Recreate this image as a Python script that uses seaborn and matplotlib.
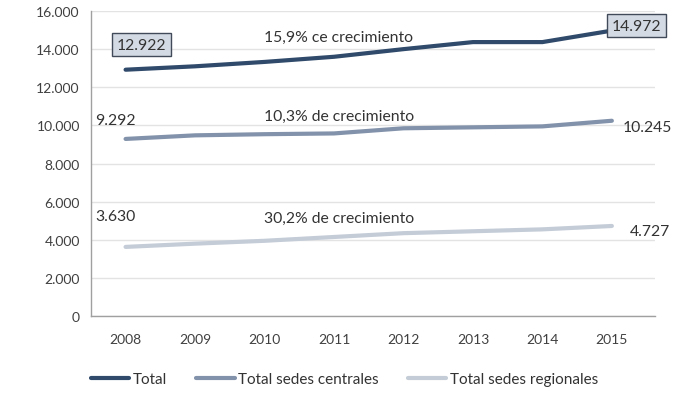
import pandas as pd
import matplotlib.pyplot as plt
import seaborn as sns

years = [2008, 2009, 2010, 2011, 2012, 2013, 2014, 2015]
total = [12922, 13100, 13330, 13600, 14000, 14370, 14370, 14972]
centrales = [9292, 9480, 9540, 9580, 9850, 9900, 9950, 10245]
regionales = [3630, 3800, 3950, 4150, 4350, 4450, 4550, 4727]
series_names = ["Total", "Total sedes centrales", "Total sedes regionales"]
colors = ["#2f4a6a", "#8292aa", "#c4ccd7"]
yticks = [0, 2000, 4000, 6000, 8000, 10000, 12000, 14000, 16000]

df = pd.DataFrame({
    "year": years * 3,
    "value": total + centrales + regionales,
    "serie": [series_names[0]] * 8 + [series_names[1]] * 8 + [series_names[2]] * 8,
})

sns.set_style("white")
plt.rcParams["font.family"] = ["Lato", "DejaVu Sans"]

fig = plt.figure(figsize=(6.78, 4.14), dpi=100)
ax = fig.add_axes([0.134, 0.234, 0.832, 0.737])

sns.lineplot(data=df, x="year", y="value", hue="serie", palette=colors,
             linewidth=3, ax=ax)

ax.set_xlim(2007.5, 2015.62)
ax.set_ylim(0, 16000)
ax.set_xticks(years)
ax.set_yticks(yticks)
ax.set_yticklabels([f"{v:,}".replace(",", ".") for v in yticks])
ax.tick_params(axis="both", labelsize=10, colors="#404040", length=0)
ax.tick_params(axis="x", pad=12)
ax.tick_params(axis="y", pad=8)
ax.set_xlabel("")
ax.set_ylabel("")
ax.grid(axis="y", color="#e3e3e3", linewidth=1)
ax.set_axisbelow(True)
for side in ["top", "right"]:
    ax.spines[side].set_visible(False)
for side in ["left", "bottom"]:
    ax.spines[side].set_color("#a0a0a0")
    ax.spines[side].set_linewidth(1)

def fmt(v):
    return f"{v:,}".replace(",", ".")

fs = 11.3
box = dict(boxstyle="square,pad=0.3", fc="#d4dae3", ec="#404a58", lw=1)
ax.annotate(fmt(total[0]), (years[0], total[0]), xytext=(16, 25),
            textcoords="offset pixels", ha="center", va="center",
            fontsize=fs, color="#333333", bbox=box)
ax.annotate(fmt(total[-1]), (years[-1], total[-1]), xytext=(25, 5),
            textcoords="offset pixels", ha="center", va="center",
            fontsize=fs, color="#333333", bbox=box)
ax.annotate(fmt(centrales[0]), (years[0], centrales[0]), xytext=(-10, 19),
            textcoords="offset pixels", ha="center", va="center",
            fontsize=fs, color="#333333")
ax.annotate(fmt(centrales[-1]), (years[-1], centrales[-1]), xytext=(35, -6),
            textcoords="offset pixels", ha="center", va="center",
            fontsize=fs, color="#333333")
ax.annotate(fmt(regionales[0]), (years[0], regionales[0]), xytext=(-10, 31),
            textcoords="offset pixels", ha="center", va="center",
            fontsize=fs, color="#333333")
ax.annotate(fmt(regionales[-1]), (years[-1], regionales[-1]), xytext=(38, -5),
            textcoords="offset pixels", ha="center", va="center",
            fontsize=fs, color="#333333")

ax.text(2011.07, 14640, "15,9% ce crecimiento", ha="center", va="center",
        fontsize=fs, color="#333333")
ax.text(2011.07, 10490, "10,3% de crecimiento", ha="center", va="center",
        fontsize=fs, color="#333333")
ax.text(2011.07, 5140, "30,2% de crecimiento", ha="center", va="center",
        fontsize=fs, color="#333333")

handles, labels = ax.get_legend_handles_labels()
ax.legend(handles, labels, loc="center", bbox_to_anchor=(0.45, -0.207),
          ncol=3, frameon=False, fontsize=11, handlelength=2.5,
          handletextpad=0.25, columnspacing=1.9, labelcolor="#333333")

fig.savefig("out.png", dpi=100)
